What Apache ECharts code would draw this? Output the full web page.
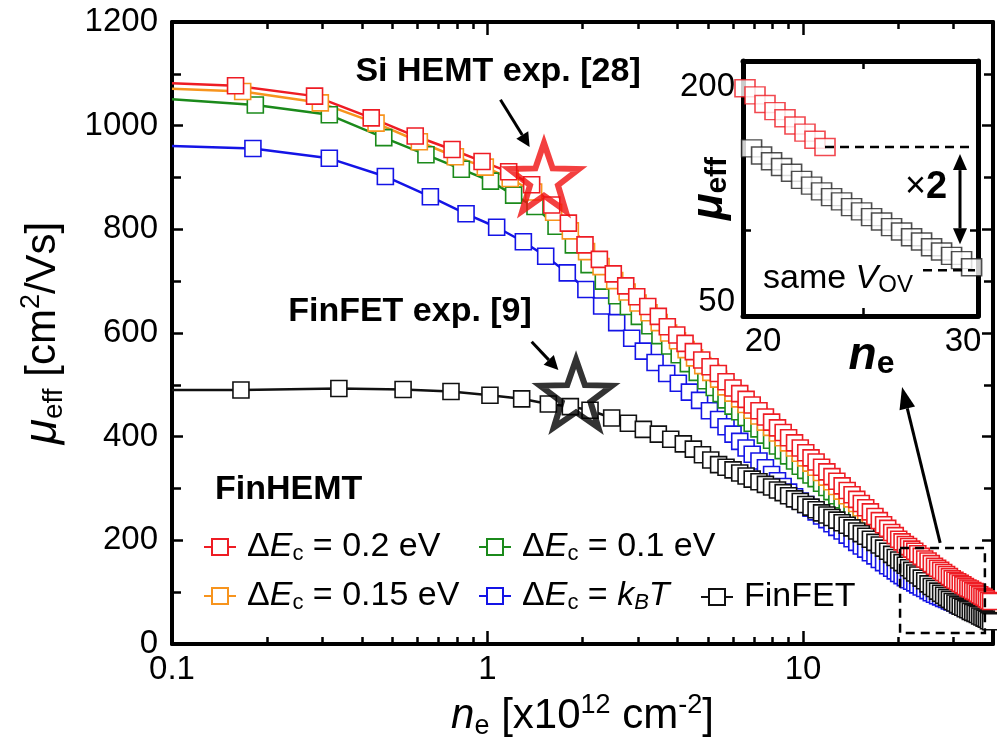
<!DOCTYPE html>
<html><head><meta charset="utf-8">
<script src="https://cdn.jsdelivr.net/npm/echarts@6/dist/echarts.min.js"></script>
<style>html,body{margin:0;padding:0;background:#fff}#c{width:997px;height:751px}</style>
</head><body><div id="c"></div>
<script>
// ---------- data ----------
const denseN = [5.7, 6.0, 6.3, 6.6, 6.9, 7.25, 7.6, 7.95, 8.3, 8.65, 9.0, 9.4, 9.8, 10.2, 10.6, 11.0, 11.45, 11.9, 12.35, 12.8, 13.3, 13.8, 14.3, 14.8, 15.3, 15.8, 16.35, 16.9, 17.45, 18.0, 18.55, 19.1, 19.6, 20.1, 20.6, 21.1, 21.6, 22.1, 22.6, 23.1, 23.7, 24.3, 24.9, 25.5, 26.1, 26.7, 27.3, 27.9, 28.5, 29.1, 29.7, 30.3, 30.9, 31.5, 32.1, 32.7, 33.3, 33.9, 34.5, 35.1, 35.7, 36.3, 36.9, 37.5, 38.1, 38.7, 39.3];

const redLowN  = [0.1, 0.159, 0.283, 0.428, 0.590, 0.772, 0.961, 1.167, 1.38, 1.598, 1.804, 2.037, 2.262, 2.504, 2.742, 2.971, 3.22, 3.478, 3.714, 3.979, 4.227, 4.491, 4.775, 5.073, 5.389];
const redLowMu = [1082, 1077, 1057, 1015, 980, 954, 931, 911, 886, 847, 812, 770, 742, 714, 691, 670, 651, 632, 612, 596, 580, 564, 548, 535, 522];
const redDenseMu = [506, 494, 483, 472, 461, 450, 438, 428, 417, 408, 398, 388, 378, 369, 359, 351, 341, 332, 323, 314, 305, 296, 288, 279, 271, 263, 255, 246, 238, 230, 223, 215, 209, 202, 197, 192, 188, 183, 179, 174, 169, 164, 160, 155, 150, 146, 142, 138, 134, 130, 126, 123, 120, 117, 114, 111, 108, 106, 103, 101, 98, 95, 92, 90, 87, 84, 82];

const orangeLowN  = [0.1, 0.1675, 0.2952, 0.4433, 0.608, 0.791, 0.984, 1.18, 1.40, 1.62, 1.83, 2.06, 2.29, 2.53, 2.77, 3.0, 3.25, 3.5, 3.75, 4.0, 4.26, 4.53, 4.81, 5.1, 5.4];
const orangeLowMu = [1071, 1066, 1044, 1005, 969, 940, 920, 898, 872, 833, 797, 757, 728, 701, 679, 658, 639, 620, 600, 585, 568, 552, 537, 524, 511];
const orangeDenseMu = [496, 484, 473, 462, 451, 440, 428, 418, 407, 398, 388, 378, 368, 359, 349, 341, 331, 322, 313, 304, 295, 286, 280, 271, 263, 255, 247, 238, 230, 222, 215, 207, 201, 194, 189, 186, 182, 177, 173, 168, 163, 158, 154, 149, 144, 140, 136, 132, 128, 124, 120, 117, 114, 111, 108, 105, 102, 100, 97, 95, 92, 89, 86, 84, 81, 78, 76];

const greenLowN  = [0.1, 0.1837, 0.3152, 0.469, 0.638, 0.826, 1.022, 1.21, 1.414, 1.649, 1.871, 2.098, 2.328, 2.567, 2.795, 3.028, 3.27, 3.52, 3.78, 4.05, 4.33, 4.62, 4.92, 5.23, 5.5];
const greenLowMu = [1051, 1040, 1021, 977, 944, 916, 893, 866, 844, 806, 770, 732, 700, 672, 651, 632, 614, 595, 575, 558, 541, 524, 508, 495, 483];
const greenDenseMu = [471, 459, 448, 437, 426, 415, 403, 393, 382, 373, 363, 353, 343, 335, 326, 319, 310, 302, 294, 286, 278, 270, 263, 255, 248, 241, 234, 226, 219, 212, 206, 199, 194, 188, 184, 180, 176, 171, 167, 162, 157, 152, 148, 143, 138, 134, 130, 126, 122, 118, 114, 111, 108, 105, 102, 99, 96, 94, 91, 89, 86, 83, 80, 78, 75, 72, 70];

const blueLowN  = [0.1, 0.1805, 0.3152, 0.4745, 0.659, 0.855, 1.069, 1.299, 1.529, 1.79, 2.05, 2.30, 2.567, 2.864, 3.118, 3.396, 3.698, 4.025, 4.364, 4.7, 5.05, 5.4];
const blueLowMu = [961, 956, 937, 902, 863, 830, 804, 776, 748, 716, 684, 652, 620, 590, 565, 543, 522, 503, 486, 470, 450, 433];
const blueDenseMu = [419, 405, 391, 378, 366, 353, 340, 327, 315, 304, 293, 284, 276, 269, 262, 255, 247, 240, 232, 225, 218, 210, 203, 196, 189, 183, 176, 170, 163, 157, 151, 146, 141, 136, 132, 128, 124, 121, 118, 114, 110, 107, 103, 99, 96, 93, 91, 88, 86, 83, 81, 79, 76, 74, 72, 69, 67, 65, 63, 61, 59, 57, 55, 53, 51, 49, 47];

const finfetLowN  = [0.1, 0.1654, 0.338, 0.540, 0.766, 1.018, 1.283, 1.559, 1.83, 2.113, 2.475, 2.795, 3.118, 3.478, 3.808, 4.174, 4.491, 4.8, 5.1, 5.4];
const finfetLowMu = [490, 490, 493, 491, 487, 480, 473, 463, 458, 451, 436, 426, 414, 405, 395, 386, 376, 365, 355, 346];
const finfetDenseMu = [341, 336, 330, 324, 318, 313, 308, 303, 297, 292, 286, 280, 275, 269, 264, 259, 253, 249, 244, 239, 234, 229, 224, 218, 213, 208, 202, 196, 191, 185, 179, 173, 167, 162, 157, 152, 147, 142, 137, 133, 127, 122, 116, 111, 107, 102, 98, 94, 90, 86, 82, 79, 76, 73, 71, 68, 66, 63, 61, 59, 57, 54, 52, 50, 48, 45, 43];

// experimental stars
const starSiN = [1.51], starSiMu = [901];
const starFinN = [1.908], starFinMu = [483];

// inset
const insetRedN  = [19.1, 19.6, 20.1, 20.6, 21.1, 21.6, 22.1, 22.6, 23.1];
const insetRedMu = [199, 194, 188, 183, 178, 173, 168, 163, 158];
const insetBlackN  = [19.43, 19.93, 20.43, 20.93, 21.43, 21.93, 22.43, 22.93, 23.43, 23.93, 24.43, 24.93, 25.43, 25.93, 26.43, 26.93, 27.43, 27.93, 28.43, 28.93, 29.43, 29.93, 30.43];
const insetBlackMu = [157, 152, 148, 144, 140, 135, 131, 127, 123, 120, 116, 113, 109, 106, 102, 99, 95, 92, 88, 85, 82, 79, 74];

// tick labels
const xMajor = [0.1, 1, 10];
const xMinor = [0.2,0.3,0.4,0.5,0.6,0.7,0.8,0.9,2,3,4,5,6,7,8,9,20,30,40];
const insetXLabels = [20, 30];
const insetYLabels = [50, 200];

// ---------- style ----------
const FN = "'Liberation Sans',Arial,sans-serif";
const K = '#000';
const C = {red:'#ee1c24', orange:'#f7941d', green:'#1b8a1b', blue:'#1414e6', black:'#111111'};

function pts(lowN, lowMu, denseMu) {
  const ns = lowN.concat(denseN), ms = lowMu.concat(denseMu), out = [];
  for (let i = 0; i < ns.length; i++) {
    out.push(i === 0 ? {value: [ns[i], ms[i]], symbol: 'none'} : [ns[i], ms[i]]);
  }
  return out;
}
function zip(a, b) { return a.map((v, i) => [v, b[i]]); }

function curve(name, color, data) {
  return {name, type:'line', xAxisIndex:0, yAxisIndex:0, data, symbol:'rect', symbolSize:16,
    lineStyle:{color, width:2.5}, itemStyle:{color:'#fff', borderColor:color, borderWidth:1.6},
    emphasis:{disabled:true}, animation:false, z:3};
}
const STAR = 'path://M0,-10L2.35,-3.24L9.51,-3.09L3.8,1.24L5.88,8.09L0,4L-5.88,8.09L-3.8,1.24L-9.51,-3.09L-2.35,-3.24Z';

const tickLS = {color:K, width:2.5};
function logAxis(pos, major, showLabel, showLine) {
  return {type:'log', logBase:10, min:0.1, max:40, gridIndex:0, position:pos,
    axisLine:{show:showLine, onZero:false, lineStyle:{color:K, width:4}},
    axisTick:{show:true, inside:true, length: major ? 13 : 7, customValues: major ? xMajor : xMinor, lineStyle:tickLS},
    axisLabel:{show:showLabel, customValues:xMajor, color:K, fontFamily:FN, fontSize:33, margin:9,
      formatter: v => v < 0.5 ? '0.1' : String(Math.round(v))},
    splitLine:{show:false}, minorTick:{show:false}};
}

const legRich = {
  d:{fontFamily:FN, fontSize:34, lineHeight:36, color:K},
  e:{fontFamily:FN, fontSize:34, lineHeight:36, fontStyle:'italic', color:K},
  s:{fontFamily:FN, fontSize:22, lineHeight:8, verticalAlign:'bottom', color:K},
  si:{fontFamily:FN, fontSize:22, lineHeight:8, verticalAlign:'bottom', fontStyle:'italic', color:K},
  t:{fontFamily:FN, fontSize:34, lineHeight:36, color:K}
};
const legendText = {
  'ΔEc = 0.2 eV':'{d|Δ}{e|E}{s|c}{t| = 0.2 eV}',
  'ΔEc = 0.15 eV':'{d|Δ}{e|E}{s|c}{t| = 0.15 eV}',
  'ΔEc = 0.1 eV':'{d|Δ}{e|E}{s|c}{t| = 0.1 eV}',
  'ΔEc = kBT':'{d|Δ}{e|E}{s|c}{t| = }{e|k}{si|B}{e|T}',
  'FinFET':'{t|FinFET}'
};
function leg(names, left, top) {
  return {data:names, left, top, orient:'vertical', itemGap:14, itemWidth:32, itemHeight:20,
    selectedMode:false, padding:0,
    formatter: n => legendText[n],
    textStyle:{fontFamily:FN, fontSize:34, color:K, padding:[0,0,0,6], rich:legRich}};
}

const option = {
  backgroundColor:'#fff',
  animation:false,
  grid:[
    {left:172, top:22, width:821, height:622, outerBoundsMode:'none', containLabel:false},
    {left:743, top:61, width:235, height:255, outerBoundsMode:'none', containLabel:false}
  ],
  legend:[
    leg(['ΔEc = 0.2 eV','ΔEc = 0.15 eV'], 203, 530),
    leg(['ΔEc = 0.1 eV','ΔEc = kBT'], 478, 530),
    leg(['FinFET'], 700, 580)
  ],
  xAxis:[
    Object.assign(logAxis('bottom', true, true, true), {
      name:'{i|n}{s|e}{t| [x10}{p|12}{t| cm}{p|-2}{t|]}', nameLocation:'middle', nameGap:48, nameMoveOverlap:false,
      nameTextStyle:{fontFamily:FN, fontSize:42, color:K, rich:{
        i:{fontFamily:FN, fontSize:42, fontStyle:'italic', lineHeight:48, color:K},
        t:{fontFamily:FN, fontSize:42, lineHeight:48, color:K},
        s:{fontFamily:FN, fontSize:27, lineHeight:6, verticalAlign:'bottom', color:K},
        p:{fontFamily:FN, fontSize:27, lineHeight:18, verticalAlign:'top', color:K}}}
    }),
    logAxis('bottom', false, false, false),
    logAxis('top', true, false, true),
    logAxis('top', false, false, false),
    {type:'value', gridIndex:1, min:19, max:30.75, position:'bottom',
      axisLine:{show:true, onZero:false, lineStyle:{color:K, width:5}},
      axisTick:{show:true, inside:true, length:8, customValues:[25], lineStyle:tickLS},
      axisLabel:{show:true, customValues:insetXLabels, color:K, fontFamily:FN, fontSize:33, margin:9},
      splitLine:{show:false},
      name:'{n|n}{s|e}', nameLocation:'middle', nameGap:16, nameMoveOverlap:false,
      nameTextStyle:{padding:[0,0,0,22], rich:{
        n:{fontFamily:FN, fontSize:46, fontWeight:'bold', fontStyle:'italic', lineHeight:48, color:K},
        s:{fontFamily:FN, fontSize:32, fontWeight:'bold', lineHeight:6, verticalAlign:'bottom', color:K}}}},
    {type:'value', gridIndex:1, min:19, max:30.75, position:'top',
      axisLine:{show:true, onZero:false, lineStyle:{color:K, width:5}},
      axisTick:{show:true, inside:true, length:8, customValues:[25], lineStyle:tickLS},
      axisLabel:{show:false}, splitLine:{show:false}}
  ],
  yAxis:[
    {type:'value', gridIndex:0, min:0, max:1200, interval:200, position:'left',
      axisLine:{show:true, onZero:false, lineStyle:{color:K, width:4}},
      axisTick:{show:true, inside:true, length:11, lineStyle:tickLS},
      minorTick:{show:true, splitNumber:2, length:9, lineStyle:tickLS},
      axisLabel:{color:K, fontFamily:FN, fontSize:33, margin:14, formatter: v => String(v)},
      splitLine:{show:false},
      name:'{i|μ}{s|eff}{t| [cm}{p|2}{t|/Vs]}', nameLocation:'middle', nameGap:104, nameRotate:90, nameMoveOverlap:false,
      nameTextStyle:{fontFamily:FN, fontSize:42, color:K, rich:{
        i:{fontFamily:FN, fontSize:46, fontStyle:'italic', lineHeight:50, color:K},
        t:{fontFamily:FN, fontSize:42, lineHeight:50, color:K},
        s:{fontFamily:FN, fontSize:28, lineHeight:6, verticalAlign:'bottom', color:K},
        p:{fontFamily:FN, fontSize:27, lineHeight:18, verticalAlign:'top', color:K}}}},
    {type:'value', gridIndex:0, min:0, max:1200, interval:200, position:'right',
      axisLine:{show:true, onZero:false, lineStyle:{color:K, width:4}},
      axisTick:{show:true, inside:true, length:11, lineStyle:tickLS},
      minorTick:{show:true, splitNumber:2, length:9, lineStyle:tickLS},
      axisLabel:{show:false}, splitLine:{show:false}},
    {type:'value', gridIndex:1, min:40, max:218, position:'left',
      axisLine:{show:true, onZero:false, lineStyle:{color:K, width:5}},
      axisTick:{show:true, inside:true, length:8, customValues:[100], lineStyle:tickLS},
      axisLabel:{show:true, customValues:insetYLabels, color:K, fontFamily:FN, fontSize:33, margin:8, formatter: v => String(v)},
      splitLine:{show:false},
      name:'{m|μ}{s|eff}', nameLocation:'middle', nameGap:10, nameRotate:90, nameMoveOverlap:false,
      nameTextStyle:{rich:{
        m:{fontFamily:FN, fontSize:44, fontWeight:'bold', fontStyle:'italic', lineHeight:46, color:K},
        s:{fontFamily:FN, fontSize:30, fontWeight:'bold', lineHeight:6, verticalAlign:'bottom', color:K}}}},
    {type:'value', gridIndex:1, min:40, max:218, position:'right',
      axisLine:{show:true, onZero:false, lineStyle:{color:K, width:5}},
      axisTick:{show:true, inside:true, length:8, customValues:[100], lineStyle:tickLS},
      axisLabel:{show:false}, splitLine:{show:false}}
  ],
  series:[
    curve('ΔEc = kBT', C.blue, pts(blueLowN, blueLowMu, blueDenseMu)),
    curve('ΔEc = 0.1 eV', C.green, pts(greenLowN, greenLowMu, greenDenseMu)),
    curve('ΔEc = 0.15 eV', C.orange, pts(orangeLowN, orangeLowMu, orangeDenseMu)),
    curve('FinFET', C.black, pts(finfetLowN, finfetLowMu, finfetDenseMu)),
    curve('ΔEc = 0.2 eV', C.red, pts(redLowN, redLowMu, redDenseMu)),
    {name:'Si HEMT exp.', type:'scatter', xAxisIndex:0, yAxisIndex:0, data:zip(starSiN, starSiMu),
      symbol:STAR, symbolSize:[70,68], itemStyle:{color:'rgba(255,255,255,0)', borderColor:'#f01010', borderWidth:6, borderJoin:'miter'}, z:6},
    {name:'FinFET exp.', type:'scatter', xAxisIndex:0, yAxisIndex:0, data:zip(starFinN, starFinMu),
      symbol:STAR, symbolSize:[72,68], itemStyle:{color:'rgba(255,255,255,0)', borderColor:K, borderWidth:6, borderJoin:'miter'}, z:6},
    {name:'inset red', type:'scatter', xAxisIndex:4, yAxisIndex:2, data:zip(insetRedN, insetRedMu),
      symbol:'rect', symbolSize:[20,17], itemStyle:{color:'#fff', borderColor:C.red, borderWidth:1.5}, z:4},
    {name:'inset black', type:'scatter', xAxisIndex:4, yAxisIndex:2, data:zip(insetBlackN, insetBlackMu),
      symbol:'rect', symbolSize:[20,17], itemStyle:{color:'#fff', borderColor:'#222', borderWidth:1.5}, z:4}
  ]
};

const chart = echarts.init(document.getElementById('c'), null, {renderer:'canvas'});
chart.setOption(option);

// ---------- annotations (placed in data coordinates) ----------
const P = (pt) => chart.convertToPixel({seriesIndex:4}, pt);
const Q = (pt) => chart.convertToPixel({seriesIndex:7}, pt);
function arrowEls(p1, p2, w, hl, hw, both) {
  const dx = p2[0]-p1[0], dy = p2[1]-p1[1], L = Math.hypot(dx, dy), ux = dx/L, uy = dy/L;
  const b2 = [p2[0]-ux*hl, p2[1]-uy*hl];
  const b1 = both ? [p1[0]+ux*hl, p1[1]+uy*hl] : p1;
  const els = [{type:'line', shape:{x1:b1[0], y1:b1[1], x2:b2[0], y2:b2[1]}, style:{stroke:K, lineWidth:w}, z:10},
    {type:'polygon', shape:{points:[p2, [b2[0]-uy*hw, b2[1]+ux*hw], [b2[0]+uy*hw, b2[1]-ux*hw]]}, style:{fill:K}, z:10}];
  if (both) els.push({type:'polygon', shape:{points:[p1, [b1[0]-uy*hw, b1[1]+ux*hw], [b1[0]+uy*hw, b1[1]-ux*hw]]}, style:{fill:K}, z:10});
  return els;
}
function txt(p, text, size, weight, rich, align) {
  return {type:'text', x:p[0], y:p[1], z:10, style:{text, fontFamily:FN, fontSize:size, fontWeight:weight||'normal',
    fill:K, align:align||'center', verticalAlign:'middle', rich:rich||undefined}};
}
const bx1 = P([20.3, 185]), bx2 = P([37.7, 21]);
const d1a = Q([23.1, 158]), d1b = Q([30.6, 158]);
const d2a = Q([28.0, 72]), d2b = Q([30.6, 72]);
const g = [
  txt(P([1.08, 1105]), 'Si HEMT exp. [28]', 34, 'bold'),
  txt(P([0.568, 642]), 'FinFET exp. [9]', 34, 'bold'),
  txt([215, 490], 'FinHEMT', 34, 'bold', null, 'left'),
  ...arrowEls(P([1.099, 1050]), P([1.36, 959]), 3, 14, 7),
  ...arrowEls(P([1.38, 583]), P([1.677, 528.6]), 3, 14, 7),
  ...arrowEls(P([27.2, 195]), P([20.6, 496]), 3, 22, 8),
  {type:'rect', shape:{x:bx1[0], y:bx1[1], width:bx2[0]-bx1[0], height:bx2[1]-bx1[1]},
    style:{fill:'none', stroke:K, lineWidth:2.5, lineDash:[9,6]}, z:10},
  {type:'line', shape:{x1:d1a[0], y1:d1a[1], x2:d1b[0], y2:d1b[1]}, style:{stroke:K, lineWidth:2.5, lineDash:[9,6]}, z:10},
  {type:'line', shape:{x1:d2a[0], y1:d2a[1], x2:d2b[0], y2:d2b[1]}, style:{stroke:K, lineWidth:2.5, lineDash:[9,6]}, z:10},
  ...arrowEls(Q([29.85, 153]), Q([29.85, 90]), 3, 16, 7, true),
  txt(Q([28.15, 130]), '{a|×}{b|2}', 36, 'normal', {a:{fontFamily:FN, fontSize:36}, b:{fontFamily:FN, fontSize:38, fontWeight:'bold'}}),
  txt(Q([23.75, 66]), '{t|same }{v|V}{s|OV}', 34, 'normal', {
    t:{fontFamily:FN, fontSize:34, lineHeight:38}, v:{fontFamily:FN, fontSize:34, fontStyle:'italic', lineHeight:38},
    s:{fontFamily:FN, fontSize:24, lineHeight:6, verticalAlign:'bottom'}})
];
chart.setOption({graphic:g});
</script>
</body></html>
